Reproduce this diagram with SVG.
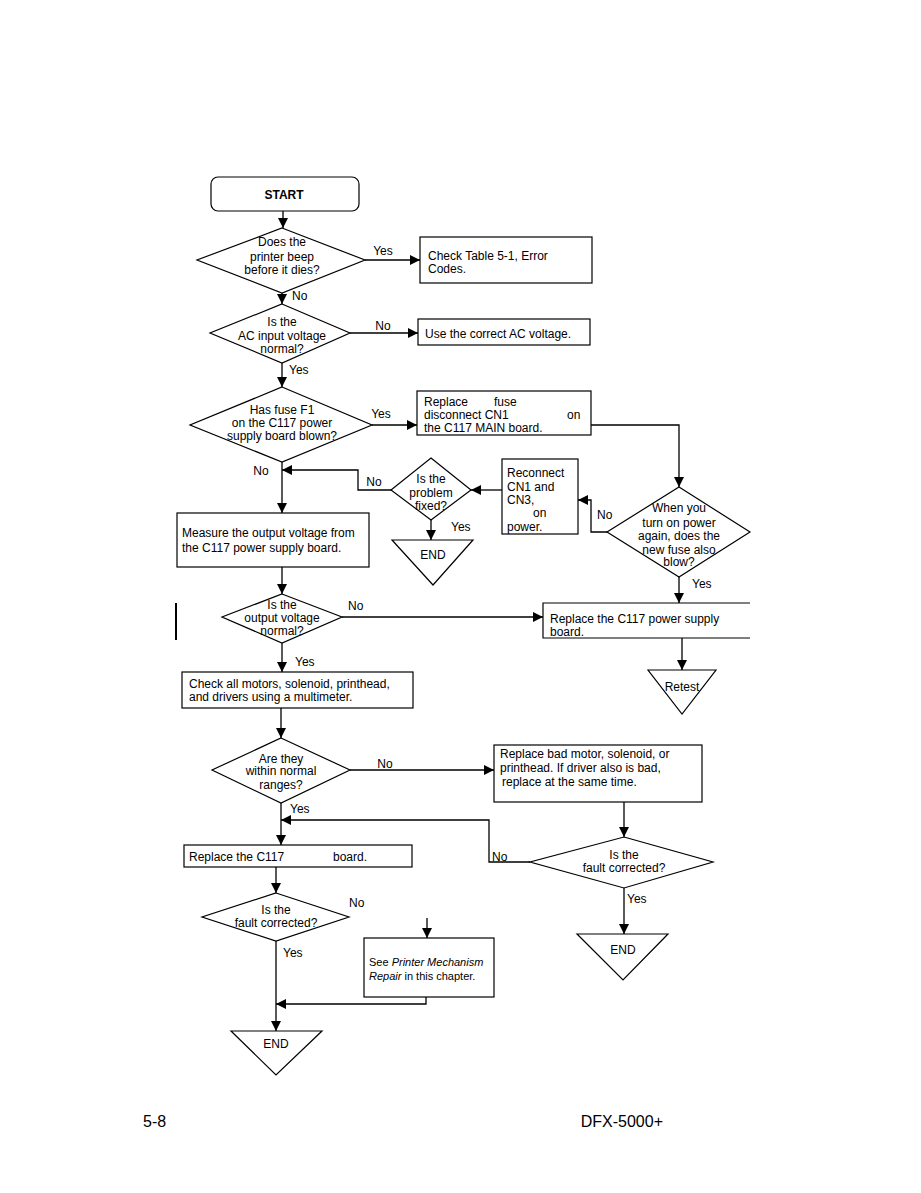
<svg xmlns="http://www.w3.org/2000/svg" width="921" height="1193" viewBox="0 0 921 1193">
<defs>
<style>
.n{fill:#fff;stroke:#000;stroke-width:1.2}
.t{font-family:"Liberation Sans",Arial,sans-serif;font-size:12px;fill:#000}
.s{font-size:11px}
.c{text-anchor:middle}
.e{fill:none;stroke:#000;stroke-width:1.3}
.a{marker-end:url(#ah)}
.f{font-family:"Liberation Sans",Arial,sans-serif;font-size:16px;fill:#000}
</style>
<marker id="ah" markerUnits="userSpaceOnUse" markerWidth="10" markerHeight="10" refX="10" refY="5" orient="auto">
<path d="M0,0 L10,5 L0,10 z" fill="#000"/>
</marker>
</defs>
<rect width="921" height="1193" fill="#fff"/>

<g id="connectors">
<path class="e a" d="M283,211 V228"/>
<path class="e a" d="M365,260 H420"/>
<path class="e a" d="M282,293 V304"/>
<path class="e a" d="M350,333 H418"/>
<path class="e a" d="M282,363 V387"/>
<path class="e a" d="M372,425 H417"/>
<path class="e a" d="M591,425 H679 V487"/>
<path class="e a" d="M607,532 H591 V500 H578"/>
<path class="e a" d="M502,490 H471"/>
<path class="e a" d="M391,490 H358 V470 H282"/>
<path class="e a" d="M431,520 V540"/>
<path class="e a" d="M282,462 V513"/>
<path class="e a" d="M282,567 V594"/>
<path class="e a" d="M342,617 H543"/>
<path class="e a" d="M679,577 V603"/>
<path class="e a" d="M682,638 V670"/>
<path class="e a" d="M282,643 V672"/>
<path class="e a" d="M281,708 V738"/>
<path class="e a" d="M350,770 H494"/>
<path class="e a" d="M624,802 V837"/>
<path class="e a" d="M530,862 H489 V820 H281"/>
<path class="e a" d="M624,888 V934"/>
<path class="e a" d="M281,803 V845"/>
<path class="e a" d="M276,867 V893"/>
<path class="e a" d="M427,918 V938"/>
<path class="e a" d="M276,941 V1031"/>
<path class="e a" d="M426,997 V1004 H276"/>
<line x1="176" y1="603" x2="176" y2="640" stroke="#000" stroke-width="2"/>
<g class="t">
<text x="383" y="255" class="c">Yes</text>
<text x="292" y="300">No</text>
<text x="383" y="330" class="c">No</text>
<text x="289" y="374">Yes</text>
<text x="381" y="418" class="c">Yes</text>
<text x="261" y="475" class="c">No</text>
<text x="374" y="486" class="c">No</text>
<text x="451" y="531">Yes</text>
<text x="597" y="519">No</text>
<text x="692" y="588">Yes</text>
<text x="348" y="610">No</text>
<text x="295" y="666">Yes</text>
<text x="385" y="768" class="c">No</text>
<text x="290" y="813">Yes</text>
<text x="492" y="861">No</text>
<text x="627" y="903">Yes</text>
<text x="349" y="907">No</text>
<text x="283" y="957">Yes</text>
</g>
</g>

<g id="start">
<rect class="n" x="211" y="177" width="148" height="34" rx="7"/>
<text class="t c" x="284" y="199" font-weight="bold">START</text>
</g>
<g id="d1">
<polygon class="n" points="282,228 365,260 282,293 197,260"/>
<text class="t c" x="282" y="246">Does the</text>
<text class="t c" x="282" y="261">printer beep</text>
<text class="t c" x="282" y="274">before it dies?</text>
</g>
<g id="b1">
<rect class="n" x="420" y="237" width="172" height="46"/>
<text class="t" x="428" y="260">Check Table 5-1, Error</text>
<text class="t" x="428" y="273">Codes.</text>
</g>
<g id="d2">
<polygon class="n" points="282,304 350,333 282,363 210,333"/>
<text class="t c" x="282" y="326">Is the</text>
<text class="t c" x="282" y="340">AC input voltage</text>
<text class="t c" x="282" y="353">normal?</text>
</g>
<g id="b2">
<rect class="n" x="418" y="319" width="172" height="26"/>
<text class="t" x="425" y="338">Use the correct AC voltage.</text>
</g>
<g id="d3">
<polygon class="n" points="282,387 372,425 282,462 190,425"/>
<text class="t c" x="282" y="414">Has fuse F1</text>
<text class="t c" x="282" y="427">on the C117 power</text>
<text class="t c" x="282" y="440">supply board blown?</text>
</g>
<g id="b3">
<rect class="n" x="417" y="391" width="174" height="44"/>
<text class="t" x="424" y="406">Replace</text>
<text class="t" x="494" y="406">fuse</text>
<text class="t" x="424" y="419">disconnect CN1</text>
<text class="t" x="567" y="419">on</text>
<text class="t" x="424" y="432">the C117 MAIN board.</text>
</g>
<g id="d4">
<polygon class="n" points="679,487 750,532 679,577 607,532"/>
<text class="t c" x="679" y="512">When you</text>
<text class="t c" x="679" y="527">turn on power</text>
<text class="t c" x="679" y="540">again, does the</text>
<text class="t c" x="679" y="554">new fuse also</text>
<text class="t c" x="679" y="566">blow?</text>
</g>
<g id="b4">
<rect class="n" x="502" y="459" width="76" height="75"/>
<text class="t" x="507" y="477">Reconnect</text>
<text class="t" x="507" y="491">CN1 and</text>
<text class="t" x="507" y="504">CN3,</text>
<text class="t" x="533" y="517">on</text>
<text class="t" x="507" y="531">power.</text>
</g>
<g id="d5p">
<polygon class="n" points="431,458 471,490 431,520 391,490"/>
<text class="t c" x="431" y="483">Is the</text>
<text class="t c" x="431" y="497">problem</text>
<text class="t c" x="431" y="510">fixed?</text>
</g>
<g id="end1">
<polygon class="n" points="392,540 473,540 433,585"/>
<text class="t c" x="433" y="559">END</text>
</g>
<g id="b5">
<rect class="n" x="177" y="513" width="192" height="54"/>
<text class="t" x="182" y="537">Measure the output voltage from</text>
<text class="t" x="182" y="552">the C117 power supply board.</text>
</g>
<g id="d5">
<polygon class="n" points="282,594 342,617 282,643 222,617"/>
<text class="t c" x="282" y="609">Is the</text>
<text class="t c" x="282" y="622">output voltage</text>
<text class="t c" x="282" y="635">normal?</text>
</g>
<g id="b6">
<path class="n" d="M750,603 H543 V638 H750"/>
<text class="t" x="550" y="623">Replace the C117 power supply</text>
<text class="t" x="550" y="636">board.</text>
</g>
<g id="retest">
<polygon class="n" points="648,670 716,670 682,714"/>
<text class="t c" x="682" y="691">Retest</text>
</g>
<g id="b7">
<rect class="n" x="182" y="672" width="231" height="36"/>
<text class="t" x="189" y="688">Check all motors, solenoid, printhead,</text>
<text class="t" x="189" y="701">and drivers using a multimeter.</text>
</g>
<g id="d6">
<polygon class="n" points="281,738 350,770 281,803 212,770"/>
<text class="t c" x="281" y="763">Are they</text>
<text class="t c" x="281" y="775">within normal</text>
<text class="t c" x="281" y="789">ranges?</text>
</g>
<g id="b8">
<rect class="n" x="494" y="745" width="208" height="57"/>
<text class="t" x="500" y="758">Replace bad motor, solenoid, or</text>
<text class="t" x="500" y="772">printhead. If driver also is bad,</text>
<text class="t" x="502" y="786">replace at the same time.</text>
</g>
<g id="d7">
<polygon class="n" points="624,837 713,862 624,888 530,862"/>
<text class="t c" x="624" y="859">Is the</text>
<text class="t c" x="624" y="872">fault corrected?</text>
</g>
<g id="end2">
<polygon class="n" points="577,934 668,934 623,980"/>
<text class="t c" x="623" y="954">END</text>
</g>
<g id="b9">
<rect class="n" x="184" y="845" width="228" height="22"/>
<text class="t" x="189" y="861">Replace the C117</text>
<text class="t" x="333" y="861">board.</text>
</g>
<g id="d8">
<polygon class="n" points="276,893 349,917 276,941 202,917"/>
<text class="t c" x="276" y="914">Is the</text>
<text class="t c" x="276" y="927">fault corrected?</text>
</g>
<g id="b10">
<rect class="n" x="364" y="938" width="130" height="59"/>
<text class="t s" x="369" y="966">See <tspan font-style="italic">Printer Mechanism</tspan></text>
<text class="t s" x="369" y="980"><tspan font-style="italic">Repair</tspan> in this chapter.</text>
</g>
<g id="end3">
<polygon class="n" points="231,1031 322,1031 276,1075"/>
<text class="t c" x="276" y="1048">END</text>
</g>

<text class="f" x="143" y="1127">5-8</text>
<text class="f" x="663" y="1127" text-anchor="end" font-size="17">DFX-5000+</text>
</svg>
